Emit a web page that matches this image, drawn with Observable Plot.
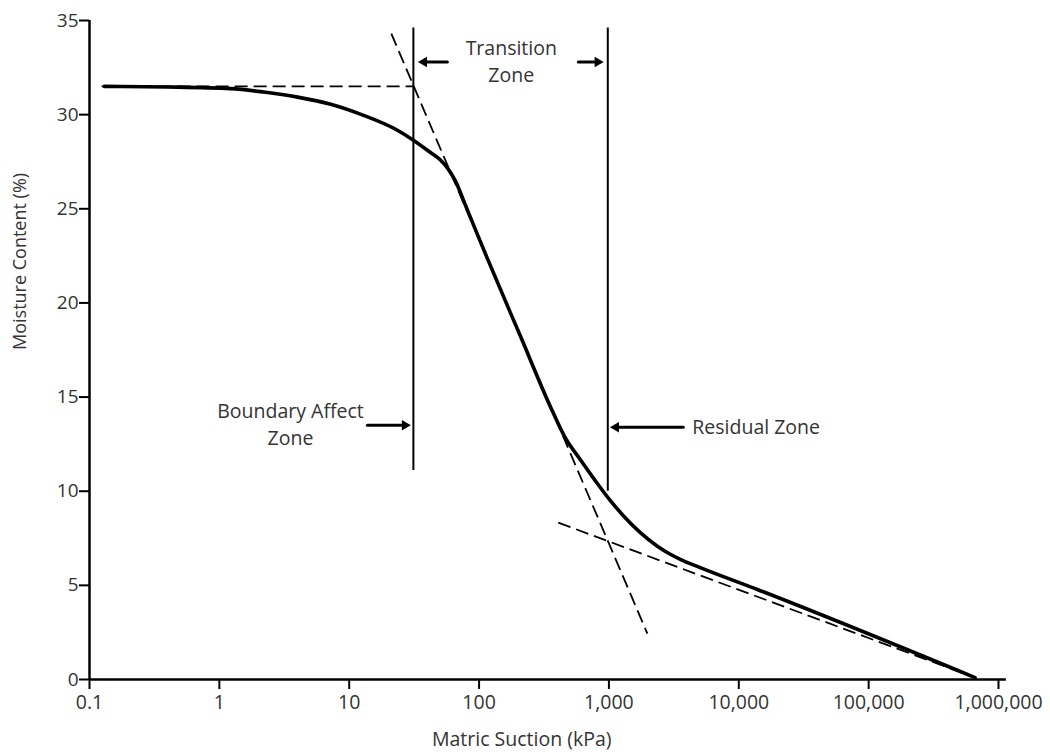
<!DOCTYPE html>
<html>
<head>
<meta charset="utf-8">
<script src="https://cdn.jsdelivr.net/npm/d3@7"></script>
<script src="https://cdn.jsdelivr.net/npm/@observablehq/plot@0.6"></script>
<style>
  html, body { margin: 0; padding: 0; background: #fff; }
  #chart svg { overflow: visible; display: block; font-variant-ligatures: none; }
</style>
</head>
<body>
<div id="chart"></div>
<script>
// ---- Data ----
const xTicks = [0.1, 1, 10, 100, 1000, 10000, 100000, 1000000];
const xTickLabels = ["0.1", "1", "10", "100", "1,000", "10,000", "100,000", "1,000,000"];
const yTicks = [0, 5, 10, 15, 20, 25, 30, 35];

// Soil-water characteristic curve (matric suction kPa, moisture content %)
const suction  = [0.13, 0.4, 1.22, 2.19, 4.0, 7.2, 12.9, 23.5, 31.2, 42, 50.4, 57, 65.7, 78.4, 116, 208, 373, 461, 603, 785, 1026, 1291, 1745, 2360, 2970, 3545, 5050, 13900, 660000];
const moisture = [31.5, 31.47, 31.38, 31.2, 30.93, 30.55, 29.96, 29.17, 28.64, 28.0, 27.59, 27.17, 26.48, 25.2, 22.35, 18.24, 14.15, 12.84, 11.67, 10.56, 9.5, 8.7, 7.8, 7.08, 6.65, 6.38, 5.94, 4.78, 0.1];

// Dashed construction lines
const tangentNames = ["saturated", "desaturation", "residual"];
const tangentX1 = [0.124, 21.1, 407];
const tangentX2 = [31.2, 1977, 660000];
const tangentY1 = [31.5, 34.3, 8.33];
const tangentY2 = [31.5, 2.44, 0.1];

// Zone boundaries (vertical lines)
const zoneX   = [31.2, 980];
const zoneYlo = [11.1, 10.0];
const zoneYhi = [34.6, 34.6];

// Arrows (tail x1 -> tip x2)
const arrowX1 = [57, 581, 13.8, 3740];
const arrowX2 = [32.9, 937, 30.7, 990];
const arrowY  = [32.8, 32.8, 13.5, 13.4];

// Annotation text
const noteText   = ["Transition", "Zone", "Boundary Affect", "Zone", "Residual Zone"];
const noteX      = [177, 177, 3.53, 3.53, 4385];
const noteY      = [33.48, 32.05, 14.22, 12.79, 13.37];
const noteAnchor = ["middle", "middle", "middle", "middle", "start"];

const xLabel = "Matric Suction (kPa)";
const yLabel = "Moisture Content (%)";

// ---- Build tables ----
const curve = suction.map((s, i) => ({s, m: moisture[i]}));
const tangents = tangentNames.map((n, i) => ({n, x1: tangentX1[i], x2: tangentX2[i], y1: tangentY1[i], y2: tangentY2[i]}));
const zones = zoneX.map((x, i) => ({x, y1: zoneYlo[i], y2: zoneYhi[i]}));
const arrows = arrowX1.map((x1, i) => ({x1, x2: arrowX2[i], y: arrowY[i], right: arrowX2[i] > x1}));
const notes = noteText.map((t, i) => ({t, x: noteX[i], y: noteY[i], a: noteAnchor[i]}));

const font = "'Open Sans', sans-serif";
const textColor = "#333";
const fs = 19.5;

const chart = Plot.plot({
  width: 1050,
  height: 756,
  marginLeft: 89,
  marginRight: 52,
  marginTop: 20,
  marginBottom: 77,
  style: {fontFamily: font, fontSize: fs + "px", color: textColor, background: "#fff"},
  x: {type: "log", domain: [0.1, 1000000]},
  y: {domain: [0, 35]},
  marks: [
    // axes
    Plot.axisX(xTicks, {tickSize: 10, tickPadding: 6, stroke: "black", strokeWidth: 2, fill: textColor, fontSize: fs,
      tickFormat: d => xTickLabels[xTicks.indexOf(d)], label: null}),
    Plot.axisY(yTicks, {tickSize: 10, tickPadding: 1, stroke: "black", strokeWidth: 2, fill: textColor, fontSize: 19,
      label: null}),
    Plot.ruleY([0], {x1: 0.1, x2: 1150000, stroke: "black", strokeWidth: 2.5}),
    Plot.ruleX([0.1], {y1: 0, y2: 35, stroke: "black", strokeWidth: 2.5}),
    // dashed tangents
    Plot.link(tangents, {x1: "x1", x2: "x2", y1: "y1", y2: "y2", stroke: "black", strokeWidth: 1.8, strokeDasharray: "13,6"}),
    // zone boundaries
    Plot.ruleX(zones, {x: "x", y1: "y1", y2: "y2", stroke: "black", strokeWidth: 2}),
    // main curve
    Plot.line(curve, {x: "s", y: "m", curve: "monotone-x", stroke: "black", strokeWidth: 3.6}),
    // arrow shafts
    Plot.arrow(arrows, {x1: "x1", x2: "x2", y1: "y", y2: "y", stroke: "black", strokeWidth: 3, headLength: 0, insetEnd: 6}),
    // arrow heads (filled triangles)
    Plot.dot(arrows.filter(d => d.right), {x: "x2", y: "y", symbol: "triangle2", r: 5, rotate: 90, fill: "black", stroke: "none", dx: -7.6}),
    Plot.dot(arrows.filter(d => !d.right), {x: "x2", y: "y", symbol: "triangle2", r: 5, rotate: -90, fill: "black", stroke: "none", dx: 7.6}),
    // annotations
    Plot.text(notes.filter(d => d.a === "middle"), {x: "x", y: "y", text: "t", textAnchor: "middle", fill: textColor, fontSize: fs}),
    Plot.text(notes.filter(d => d.a === "start"), {x: "x", y: "y", text: "t", textAnchor: "start", fill: textColor, fontSize: fs}),
    // axis titles
    Plot.text([xLabel], {x: 213, frameAnchor: "bottom", dy: 66, text: d => d, fill: textColor, fontSize: fs}),
    Plot.text([yLabel], {frameAnchor: "left", dx: -69, rotate: -90, text: d => d, fill: textColor, fontSize: 18})
  ]
});
document.getElementById("chart").appendChild(chart);
</script>
</body>
</html>
